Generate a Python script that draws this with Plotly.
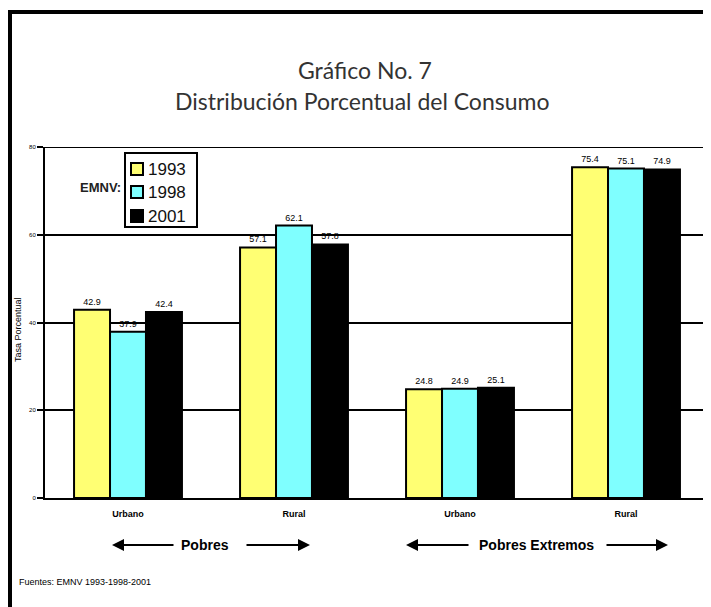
import plotly.graph_objects as go

# ---- data ----
categories = ["Urbano", "Rural", "Urbano", "Rural"]
x_pos = [0, 1, 2, 3]
years = ["1993", "1998", "2001"]
v1993 = [42.9, 57.1, 24.8, 75.4]
v1998 = [37.9, 62.1, 24.9, 75.1]
v2001 = [42.4, 57.8, 25.1, 74.9]
series = [v1993, v1998, v2001]
colors = ["#FFFF73", "#7FFFFF", "#000000"]
y_ticks = [0, 20, 40, 60, 80]

# page has an 8px body margin; figure sized to fit the window
OFF = 8
W, H = 711 - OFF, 607 - OFF
L = 45 - OFF
T = 147 - OFF
R = W - (709 - OFF)
B = H - (498 - OFF)
pw, ph = W - L - R, H - T - B


def px(x):  # target pixel x -> paper
    return (x - OFF - L) / pw


def py(y):  # target pixel y -> paper
    return (H - B - (y - OFF)) / ph


fig = go.Figure()
for name, vals, col in zip(years, series, colors):
    fig.add_trace(go.Bar(
        x=x_pos, y=vals, name=name,
        marker=dict(color=col, line=dict(color="black", width=2)),
        text=[f"{v:.1f}" for v in vals], textposition="outside",
        textfont=dict(size=9, family="Arial", color="black"),
        cliponaxis=False, showlegend=False,
    ))

fig.update_layout(
    width=W, height=H,
    margin=dict(l=L, r=R, t=T, b=B),
    paper_bgcolor="white", plot_bgcolor="white",
    barmode="group", bargap=0.35, bargroupgap=0,
    showlegend=False,
    xaxis=dict(
        range=[-0.5, 3.5], tickmode="array", tickvals=x_pos,
        ticktext=[f"<b>{c}</b>" for c in categories],
        tickfont=dict(family="Arial", size=9, color="black"),
        showline=True, linecolor="black", linewidth=2,
        showgrid=False, ticks="", zeroline=False,
        ticklabelstandoff=6,
    ),
    yaxis=dict(
        range=[0, 80], tickvals=y_ticks,
        tickfont=dict(family="Arial", size=6, color="black"),
        showline=True, linecolor="black", linewidth=2,
        showgrid=True, gridcolor="black", gridwidth=2,
        ticks="outside", ticklen=6, tickcolor="black", tickwidth=2,
        zeroline=False,
    ),
    font=dict(family="Arial", color="black"),
)

# top gridline at 80
fig.add_shape(type="line", xref="paper", yref="y", x0=0, x1=1, y0=80, y1=80,
              line=dict(color="black", width=2))

annotations = [
    dict(text="Gráfico No. 7", x=px(365), y=py(70), font=dict(family="Lato", size=23, color="#333")),
    dict(text="Distribución Porcentual del Consumo", x=px(362), y=py(101), font=dict(family="Lato", size=23, color="#333")),
    dict(text="<b>EMNV:</b>", x=px(100), y=py(187), font=dict(family="Arial", size=13, color="#222")),
    dict(text="Tasa Porcentual", x=px(18), y=py(330), textangle=-90, font=dict(family="Arial", size=9, color="black")),
    dict(text="<b>Pobres</b>", x=px(205), y=py(545), font=dict(family="Arial", size=14, color="black")),
    dict(text="<b>Pobres Extremos</b>", x=px(536), y=py(545), font=dict(family="Arial", size=14, color="black")),
    dict(text="Fuentes: EMNV 1993-1998-2001", x=px(17), y=py(582), xanchor="left", font=dict(family="Arial", size=9, color="black")),
]
for a in annotations:
    a.update(xref="paper", yref="paper", showarrow=False)
    a.setdefault("xanchor", "center")
    a.setdefault("yanchor", "middle")
    fig.add_annotation(**a)

# arrows: (tip, tail) in target pixel x
arrows = [(112, 175), (310, 245), (406, 470), (668, 605)]
for tip, tail in arrows:
    fig.add_annotation(
        x=px(tip), y=py(545), xref="paper", yref="paper", text="",
        showarrow=True, ax=tail - tip, ay=0, axref="pixel", ayref="pixel",
        arrowhead=2, arrowsize=1.2, arrowwidth=2, arrowcolor="black",
    )

# custom legend box
fig.add_shape(type="rect", xref="paper", yref="paper", x0=px(125), x1=px(197), y0=py(153), y1=py(227),
              line=dict(color="black", width=2), fillcolor="white", layer="above")
row_y = [169, 192, 216]
for name, col, ry in zip(years, colors, row_y):
    fig.add_shape(type="rect", xref="paper", yref="paper", x0=px(131), x1=px(143), y0=py(ry - 6), y1=py(ry + 6),
                  line=dict(color="black", width=2), fillcolor=col, layer="above")
    fig.add_annotation(text=name, x=px(146), y=py(ry), xref="paper", yref="paper", showarrow=False,
                       xanchor="left", yanchor="middle", font=dict(family="Arial", size=17, color="#111"))

# frame lines (left and top)
fig.add_shape(type="line", xref="paper", yref="paper", x0=px(10), x1=px(10), y0=py(10), y1=py(607),
              line=dict(color="black", width=4))
fig.add_shape(type="line", xref="paper", yref="paper", x0=px(8), x1=px(711), y0=py(12), y1=py(12),
              line=dict(color="black", width=4))

fig.write_html("out.html")
